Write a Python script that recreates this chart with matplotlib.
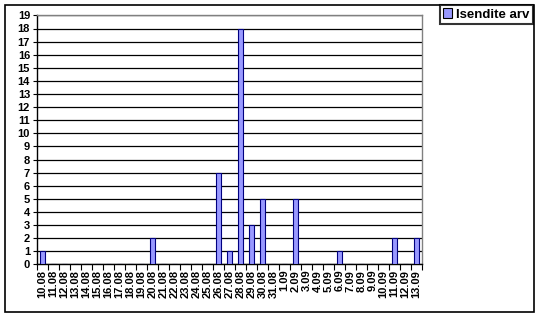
import numpy as np
import matplotlib.pyplot as plt
from matplotlib.patches import Rectangle

# Daily counts, 10.08 - 13.09
days = ['10.08', '11.08', '12.08', '13.08', '14.08', '15.08', '16.08', '17.08',
        '18.08', '19.08', '20.08', '21.08', '22.08', '23.08', '24.08', '25.08',
        '26.08', '27.08', '28.08', '29.08', '30.08', '31.08', '1.09', '2.09',
        '3.09', '4.09', '5.09', '6.09', '7.09', '8.09', '9.09', '10.09',
        '11.09', '12.09', '13.09']
counts = [1, 0, 0, 0, 0, 0, 0, 0, 0, 0, 2, 0, 0, 0, 0, 0,
          7, 1, 18, 3, 5, 0, 0, 5, 0, 0, 0, 1, 0, 0, 0, 0,
          2, 0, 2]
series_name = 'Isendite arv'

plt.rcParams['font.family'] = 'Liberation Sans'
plt.rcParams['font.weight'] = 'bold'

W, H = 541, 318
fig = plt.figure(figsize=(W / 100, H / 100), dpi=100)
ax = fig.add_axes([37 / W, 1 - 264.3 / H, (422 - 37) / W, (264.3 - 15.4) / H])

x = np.arange(len(days))
bars = ax.bar(x, counts, width=0.38, color='#9999ff', edgecolor='#000080',
              linewidth=0.8, zorder=3, label=series_name)

ax.set_xlim(-0.5, len(days) - 0.5)
ax.set_ylim(0, 19)
ax.set_yticks(range(0, 20))
ax.set_yticklabels([str(i) for i in range(0, 20)], fontsize=8, fontweight='bold')
ax.yaxis.grid(True, color='black', linewidth=0.9, zorder=0)
ax.tick_params(axis='y', length=3, width=0.8, pad=2)

ax.set_xticks(x)
ax.set_xticklabels(days, rotation=90, fontsize=8, fontweight='bold')
ax.tick_params(axis='x', which='major', length=0, pad=4)
ax.set_xticks(np.arange(-0.5, len(days)), minor=True)
ax.tick_params(axis='x', which='minor', length=4, width=0.8)

for s in ['left', 'bottom']:
    ax.spines[s].set_color('black')
    ax.spines[s].set_linewidth(1.0)
for s in ['top', 'right']:
    ax.spines[s].set_color('#808080')
    ax.spines[s].set_linewidth(1.0)

# outer chart border
fig.add_artist(Rectangle((5 / W, 1 - 312 / H), (534 - 5) / W, (312 - 5) / H,
                         transform=fig.transFigure, fill=False,
                         edgecolor='black', linewidth=1.2))

leg = fig.legend(handles=[bars], labels=[series_name], loc='upper right',
                 bbox_to_anchor=(533 / W, 1 - 5 / H), fontsize=9.5,
                 frameon=True, fancybox=False, handlelength=0.7,
                 handleheight=0.7, handletextpad=0.3, borderpad=0.25,
                 borderaxespad=0)
leg.get_frame().set_edgecolor('black')
leg.get_frame().set_linewidth(1.5)
leg.legend_handles[0].set_edgecolor('black')

fig.savefig('out.png', dpi=100)
